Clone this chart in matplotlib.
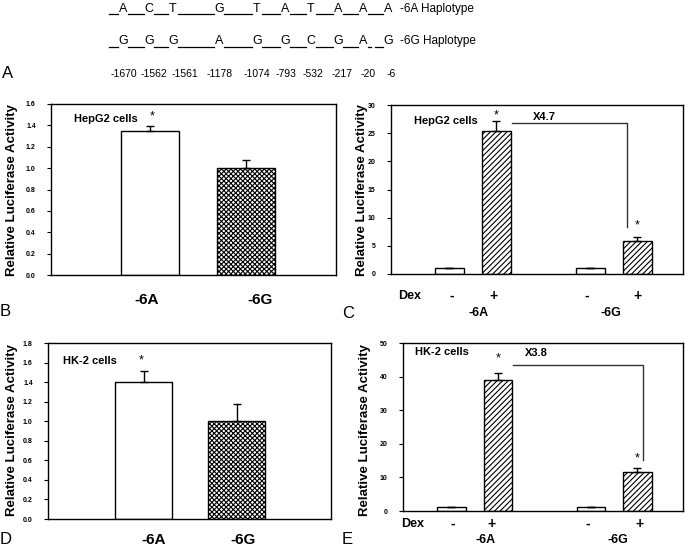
import matplotlib
matplotlib.use("Agg")
import matplotlib.pyplot as plt
from matplotlib.lines import Line2D

plt.rcParams['font.family'] = ['Liberation Sans', 'DejaVu Sans']
plt.rcParams['hatch.linewidth'] = 0.8

W, H = 685, 548

# data
alleles = ['-6A', '-6G']
hepg2_basal = [1.35, 1.00]
hepg2_basal_err = [0.04, 0.08]
hk2_basal = [1.40, 1.00]
hk2_basal_err = [0.11, 0.18]

dex_labels = ['-', '+', '-', '+']
hepg2_dex = [1.0, 25.3, 1.0, 5.8]
hepg2_dex_err = [0.0, 1.9, 0.0, 0.7]
hk2_dex = [1.2, 39.0, 1.2, 11.5]
hk2_dex_err = [0.0, 2.2, 0.0, 1.3]

hap_6A = ['A', 'C', 'T', 'G', 'T', 'A', 'T', 'A', 'A', 'A']
hap_6G = ['G', 'G', 'G', 'A', 'G', 'G', 'C', 'G', 'A', 'G']
positions = ['-1670', '-1562', '-1561', '-1178', '-1074', '-793', '-532', '-217', '-20', '-6']
# horizontal pixel centres of the allele columns / position labels
hap_x = [123, 149, 173, 219, 257, 285, 311, 338, 363, 388]
pos_x = [124, 154, 185, 220, 257, 286, 313, 342, 368, 391]


def fx(x):
    return x / W


def fy(y):
    return 1 - y / H


def box(left, top, right, bottom):
    return [fx(left), fy(bottom), (right - left) / W, (bottom - top) / H]


def style_axis(ax, ymax, step, fmt):
    ticks = [i * step for i in range(int(round(ymax / step)) + 1)]
    ax.set_ylim(0, ymax)
    ax.set_yticks(ticks)
    ax.set_yticklabels([fmt.format(t) for t in ticks], fontsize=5, fontweight='bold')
    ax.set_xticks([])
    ax.tick_params(axis='y', direction='out', length=3, width=0.8, pad=8)
    for s in ax.spines.values():
        s.set_linewidth(1.0)


def haplotype_row(fig, letters, y_mid, y_base, gaps):
    # letters centred on their columns, underscores drawn as segments in between
    x_prev = 109
    for i, (let, x) in enumerate(zip(letters, hap_x)):
        fig.text(fx(x), fy(y_mid), let, fontsize=9, ha='center', va='center')
        left = x - 5
        segs = gaps.get(i, [(x_prev, left)])
        for a, b in segs:
            fig.add_artist(Line2D([fx(a), fx(b)], [fy(y_base), fy(y_base)],
                                  color='black', lw=0.9, transform=fig.transFigure))
        x_prev = x + 5


fig = plt.figure(figsize=(6.85, 5.48), dpi=100)

# header (panel A)
haplotype_row(fig, hap_6A, 9, 14, {})
fig.text(fx(400), fy(9), '-6A Haplotype', fontsize=8.5, va='center', ha='left')
haplotype_row(fig, hap_6G, 41, 47, {9: [(368, 371), (375, 383)]})
fig.text(fx(400), fy(41), '-6G Haplotype', fontsize=8.5, va='center', ha='left')
for p, x in zip(positions, pos_x):
    fig.text(fx(x), fy(74), p, fontsize=7.5, va='center', ha='center')
fig.text(fx(2), fy(74), 'A', fontsize=12, va='center', ha='left')

ylab = 'Relative Luciferase Activity'

# panel B
axB = fig.add_axes(box(51, 104, 336, 275))
axB.bar([1, 2], hepg2_basal, width=0.6, color='white', edgecolor='black', linewidth=1,
        hatch=[None, 'xxxxxxx'])
axB.errorbar([1, 2], hepg2_basal, yerr=[[0, 0], hepg2_basal_err], fmt='none', ecolor='black',
             elinewidth=1, capsize=3)
axB.set_xlim(-0.03, 2.94)
style_axis(axB, 1.6, 0.2, '{:.1f}')
axB.text(0.21, 1.46, 'HepG2 cells', fontsize=8, fontweight='bold', va='center')
axB.text(1.02, 1.48, '*', fontsize=9, ha='center', va='center')
fig.text(fx(12), fy(190), ylab, rotation=90, fontsize=9.5, fontweight='bold', ha='center', va='center')
fig.text(fx(147), fy(300), alleles[0], fontsize=11, fontweight='bold', ha='center', va='center')
fig.text(fx(260), fy(300), alleles[1], fontsize=11, fontweight='bold', ha='center', va='center')
fig.text(fx(0), fy(312), 'B', fontsize=12, ha='left', va='center')

# panel C
axC = fig.add_axes(box(391, 105, 683, 274))
xs = [1, 2, 4, 5]
axC.bar(xs, hepg2_dex, width=0.6, color='white', edgecolor='black', linewidth=1,
        hatch=[None, '//////', None, '//////'])
axC.errorbar(xs, hepg2_dex, yerr=[[0] * 4, hepg2_dex_err], fmt='none', ecolor='black',
             elinewidth=1, capsize=3)
axC.set_xlim(-0.245, 5.97)
style_axis(axC, 30, 5, '{:.0f}')
axC.plot([2.32, 4.78, 4.78], [26.8, 26.8, 8.3], color='#333333', lw=1)
axC.text(0.245, 27.2, 'HepG2 cells', fontsize=8, fontweight='bold', va='center')
axC.text(2.78, 27.9, 'X4.7', fontsize=8, fontweight='bold', va='center')
axC.text(2, 28.2, '*', fontsize=9, ha='center', va='center')
axC.text(5, 8.6, '*', fontsize=9, ha='center', va='center')
fig.text(fx(362), fy(190), ylab, rotation=90, fontsize=9.5, fontweight='bold', ha='center', va='center')
fig.text(fx(398), fy(296), 'Dex', fontsize=9, fontweight='bold', ha='left', va='center')
for lab, x in zip(dex_labels, [452, 493, 587, 637]):
    fig.text(fx(x), fy(296), lab, fontsize=10, fontweight='bold', ha='center', va='center')
fig.text(fx(479), fy(313), alleles[0], fontsize=9, fontweight='bold', ha='center', va='center')
fig.text(fx(611), fy(313), alleles[1], fontsize=9, fontweight='bold', ha='center', va='center')
fig.text(fx(342), fy(313), 'C', fontsize=12, ha='left', va='center')

# panel D
axD = fig.add_axes(box(48, 343, 331, 519))
axD.bar([1, 2], hk2_basal, width=0.61, color='white', edgecolor='black', linewidth=1,
        hatch=[None, 'xxxxxxx'])
axD.errorbar([1, 2], hk2_basal, yerr=[[0, 0], hk2_basal_err], fmt='none', ecolor='black',
             elinewidth=1, capsize=3)
axD.set_xlim(-0.027, 3.016)
style_axis(axD, 1.8, 0.2, '{:.1f}')
axD.text(0.134, 1.616, 'HK-2 cells', fontsize=8, fontweight='bold', va='center')
axD.text(0.98, 1.62, '*', fontsize=9, ha='center', va='center')
fig.text(fx(12), fy(430), ylab, rotation=90, fontsize=9.5, fontweight='bold', ha='center', va='center')
fig.text(fx(154), fy(540), alleles[0], fontsize=11, fontweight='bold', ha='center', va='center')
fig.text(fx(243), fy(540), alleles[1], fontsize=11, fontweight='bold', ha='center', va='center')
fig.text(fx(0), fy(540), 'D', fontsize=12, ha='left', va='center')

# panel E
axE = fig.add_axes(box(403, 343, 683, 511))
axE.bar(xs, hk2_dex, width=0.62, color='white', edgecolor='black', linewidth=1,
        hatch=[None, '//////', None, '//////'])
axE.errorbar(xs, hk2_dex, yerr=[[0] * 4, hk2_dex_err], fmt='none', ecolor='black',
             elinewidth=1, capsize=3)
axE.set_xlim(-0.043, 5.98)
style_axis(axE, 50, 10, '{:.0f}')
axE.plot([2.33, 5.12, 5.12], [43.5, 43.5, 15.2], color='#333333', lw=1)
axE.text(0.215, 47.3, 'HK-2 cells', fontsize=8, fontweight='bold', va='center')
axE.text(2.58, 47.0, 'X3.8', fontsize=8, fontweight='bold', va='center')
axE.text(2, 45.5, '*', fontsize=9, ha='center', va='center')
axE.text(5, 15.6, '*', fontsize=9, ha='center', va='center')
fig.text(fx(365), fy(430), ylab, rotation=90, fontsize=9.5, fontweight='bold', ha='center', va='center')
fig.text(fx(401), fy(524), 'Dex', fontsize=9, fontweight='bold', ha='left', va='center')
for lab, x in zip(dex_labels, [453, 492, 588, 639]):
    fig.text(fx(x), fy(524), lab, fontsize=10, fontweight='bold', ha='center', va='center')
fig.text(fx(486), fy(540), alleles[0], fontsize=9, fontweight='bold', ha='center', va='center')
fig.text(fx(618), fy(540), alleles[1], fontsize=9, fontweight='bold', ha='center', va='center')
fig.text(fx(342), fy(540), 'E', fontsize=12, ha='left', va='center')

fig.savefig('out.png', dpi=100)
